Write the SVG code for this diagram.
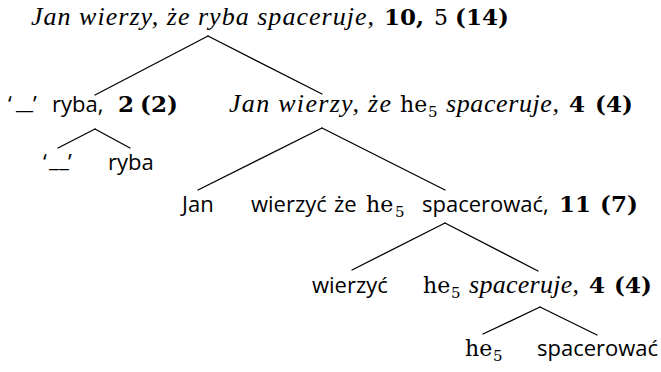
<svg xmlns="http://www.w3.org/2000/svg" width="661" height="372" viewBox="0 0 661 372">
<style>
text{fill:#000}
.it{font-family:"Liberation Serif","DejaVu Serif",serif;font-style:italic;font-size:26px}
.bf{font-family:"DejaVu Serif",serif;font-weight:bold;font-size:23px}
.rm{font-family:"DejaVu Serif",serif;font-size:22px}
.ss{font-family:"Open Sans","DejaVu Sans",sans-serif;font-size:22px}
.tt{font-family:"DejaVu Serif",serif;font-size:22px}
.sub{font-family:"DejaVu Serif",serif;font-size:15px}
#edges line{stroke:#000;stroke-width:1.3;stroke-linecap:round}
</style>
<rect width="661" height="372" fill="#fff"/>
<g id="edges">
<line x1="208" y1="36" x2="95" y2="95"/>
<line x1="208" y1="36" x2="322" y2="94"/>
<line x1="95" y1="129" x2="58" y2="148"/>
<line x1="95" y1="129" x2="130" y2="148"/>
<line x1="322" y1="128" x2="198" y2="190"/>
<line x1="322" y1="128" x2="445" y2="190"/>
<line x1="445" y1="223" x2="352" y2="270"/>
<line x1="445" y1="223" x2="538" y2="271"/>
<line x1="540" y1="307" x2="483" y2="334"/>
<line x1="540" y1="307" x2="597" y2="335"/>
</g>
<g id="n-root">
<text y="25"><tspan class="it" x="31" textLength="343" lengthAdjust="spacing">Jan wierzy, że ryba spaceruje,</tspan> <tspan class="bf" x="384">10,</tspan> <tspan class="rm" x="434">5</tspan> <tspan class="bf" x="455">(14)</tspan></text>
</g>
<g id="n-ryba-term">
<text y="112"><tspan class="ss" x="8">‘</tspan><tspan class="ss" x="16" dy="-3" textLength="17" lengthAdjust="spacingAndGlyphs">_</tspan><tspan class="ss" x="33" dy="3">’</tspan> <tspan class="ss" x="52">ryba,</tspan> <tspan class="bf" x="118">2</tspan> <tspan class="bf" x="140">(2)</tspan></text>
</g>
<g id="n-quote">
<text y="170"><tspan class="ss" x="43">‘</tspan><tspan class="ss" x="49" dy="-3" textLength="20" lengthAdjust="spacing">__</tspan><tspan class="ss" x="68" dy="3">’</tspan></text>
</g>
<g id="n-ryba">
<text class="ss" x="108" y="170">ryba</text>
</g>
<g id="n-s-he5">
<text y="112"><tspan class="it" x="229" textLength="162" lengthAdjust="spacing">Jan wierzy, że</tspan> <tspan class="tt" x="400">he</tspan><tspan class="sub" x="428" y="117">5</tspan> <tspan class="it" x="446" y="112" textLength="113" lengthAdjust="spacing">spaceruje,</tspan> <tspan class="bf" x="569">4</tspan> <tspan class="bf" x="595">(4)</tspan></text>
</g>
<g id="n-jan">
<text class="ss" x="182" y="212">Jan</text>
</g>
<g id="n-ivp">
<text y="212"><tspan class="ss" x="251">wierzyć</tspan> <tspan class="ss" x="334">że</tspan> <tspan class="tt" x="366">he</tspan><tspan class="sub" x="395" y="217">5</tspan> <tspan class="ss" x="422" y="212">spacerować,</tspan> <tspan class="bf" x="559">11</tspan> <tspan class="bf" x="600">(7)</tspan></text>
</g>
<g id="n-wierzyc">
<text class="ss" x="312" y="293">wierzyć</text>
</g>
<g id="n-he5-walks">
<text y="293"><tspan class="tt" x="423">he</tspan><tspan class="sub" x="451" y="298">5</tspan> <tspan class="it" x="469" y="293" textLength="110" lengthAdjust="spacing">spaceruje,</tspan> <tspan class="bf" x="589">4</tspan> <tspan class="bf" x="614">(4)</tspan></text>
</g>
<g id="n-he5">
<text y="356"><tspan class="tt" x="465">he</tspan><tspan class="sub" x="493" y="361">5</tspan></text>
</g>
<g id="n-spacerowac">
<text class="ss" x="537" y="356">spacerować</text>
</g>
</svg>
